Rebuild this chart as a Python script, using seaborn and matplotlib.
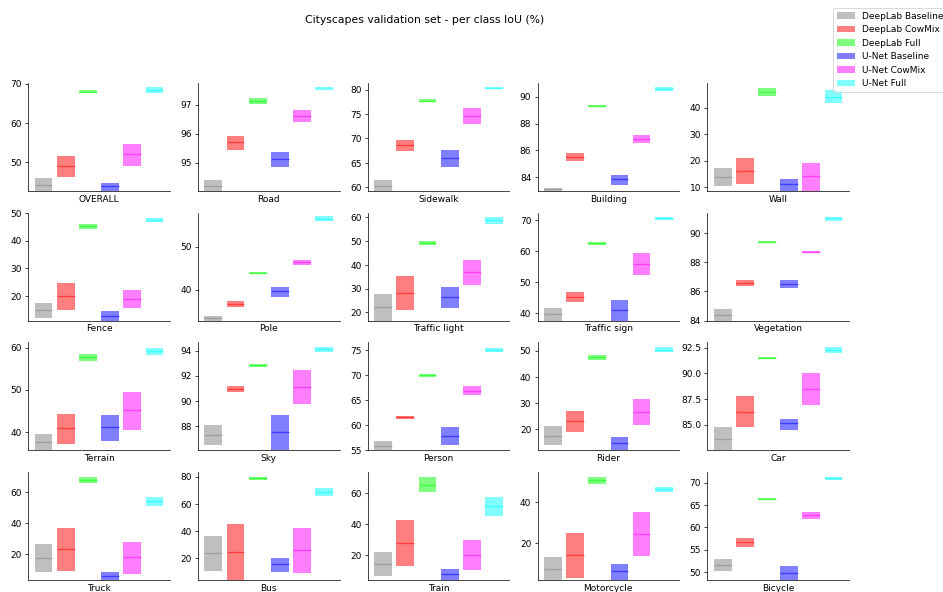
import matplotlib
matplotlib.use("Agg")
import matplotlib.pyplot as plt
import numpy as np
import seaborn as sns

classes = ["OVERALL", "Road", "Sidewalk", "Building", "Wall",
           "Fence", "Pole", "Traffic light", "Traffic sign", "Vegetation",
           "Terrain", "Sky", "Person", "Rider", "Car",
           "Truck", "Bus", "Train", "Motorcycle", "Bicycle"]

methods = ["DeepLab Baseline", "DeepLab CowMix", "DeepLab Full",
           "U-Net Baseline", "U-Net CowMix", "U-Net Full"]
method_colors = ["gray", "red", "lime", "blue", "magenta", "cyan"]

# per-class IoU spread over runs: low / median / high
dl_base_low = [42.5, 94.0, 59.2, 82.95, 10.38, 12.2, 32.7, 16.4, 37.5, 83.95,
               35.6, 86.52, 54.9, 13.92, 82.45, 8.6, 10.94, 6.52, 1.9, 50.37]
dl_base_med = [44.3, 94.21, 60.34, 83.10, 13.66, 14.96, 33.33, 22.25, 39.68, 84.39,
               37.64, 87.31, 55.87, 17.47, 83.64, 17.42, 24.16, 14.44, 7.74, 51.64]
dl_base_high = [46.0, 94.40, 61.44, 83.18, 17.06, 17.48, 33.88, 27.75, 41.72, 84.80,
                39.61, 88.11, 56.87, 21.39, 84.81, 26.67, 36.65, 22.35, 13.55, 52.97]

dl_cow_low = [46.2, 95.44, 67.47, 85.22, 11.13, 14.84, 35.89, 20.99, 43.76, 86.40,
              37.24, 90.67, 61.13, 19.11, 84.74, 9.25, 3.5, 12.94, 3.06, 55.58]
dl_cow_med = [48.97, 95.70, 68.63, 85.52, 15.93, 19.88, 36.67, 28.17, 45.38, 86.59,
              40.94, 90.93, 61.53, 23.29, 86.29, 23.23, 24.65, 28.13, 14.19, 56.69]
dl_cow_high = [51.6, 95.92, 69.66, 85.79, 20.85, 24.68, 37.36, 35.35, 46.88, 86.79,
               44.33, 91.20, 61.87, 27.09, 87.81, 36.99, 45.47, 42.89, 25.16, 57.73]

dl_full_low = [67.6, 97.02, 77.40, 89.26, 44.43, 44.25, 43.72, 48.59, 62.15, 89.34,
               56.93, 92.71, 69.73, 46.58, 91.4, 66.02, 77.8, 60.43, 48.55, 66.21]
dl_full_med = [68.0, 97.13, 77.74, 89.33, 46.07, 45.21, 43.95, 49.44, 62.58, 89.40,
               57.72, 92.84, 70.0, 47.47, 91.5, 67.96, 78.78, 65.35, 50.48, 66.43]
dl_full_high = [68.37, 97.23, 78.01, 89.40, 47.33, 45.93, 44.11, 50.0, 63.01, 89.47,
                58.50, 92.94, 70.27, 48.35, 91.6, 69.89, 79.76, 70.48, 52.26, 66.58]

un_base_low = [42.5, 94.85, 64.18, 83.43, 8.3, 11.0, 38.29, 21.97, 37.5, 86.27,
               37.95, 86.0, 55.93, 12.0, 84.52, 2.9, 9.71, 3.9, 2.0, 48.1]
un_base_med = [43.8, 95.13, 66.03, 83.83, 11.01, 12.92, 39.61, 26.34, 40.97, 86.54,
               41.18, 87.50, 57.87, 14.68, 85.13, 6.02, 15.59, 7.81, 6.77, 49.85]
un_base_high = [44.67, 95.37, 67.60, 84.15, 12.90, 14.6, 40.62, 30.70, 44.30, 86.79,
                44.09, 88.90, 59.67, 17.22, 85.58, 8.6, 20.49, 11.44, 10.16, 51.49]

un_cow_low = [49.05, 96.40, 73.01, 86.57, 8.3, 15.8, 45.81, 31.55, 52.37, 88.65,
              40.55, 89.77, 66.07, 21.77, 86.88, 7.31, 8.98, 10.37, 13.71, 61.82]
un_cow_med = [52.1, 96.61, 74.66, 86.84, 14.04, 18.92, 46.36, 36.90, 55.91, 88.72,
              45.20, 91.12, 66.93, 26.71, 88.46, 17.85, 25.88, 20.21, 24.52, 62.71]
un_cow_high = [54.7, 96.82, 76.23, 87.14, 18.95, 22.16, 46.9, 42.11, 59.46, 88.79,
               49.53, 92.47, 67.87, 31.65, 90.04, 27.96, 42.53, 30.05, 35.32, 63.53]

un_full_low = [67.6, 97.53, 80.14, 90.45, 41.78, 46.77, 55.89, 57.32, 70.0, 90.87,
               58.35, 93.92, 74.73, 49.37, 92.02, 51.18, 65.55, 45.03, 44.84, 70.52]
un_full_med = [68.45, 97.56, 80.34, 90.58, 44.17, 47.49, 56.43, 58.73, 70.54, 91.01,
               59.21, 94.11, 75.07, 50.38, 92.27, 54.19, 68.98, 51.66, 46.13, 70.97]
un_full_high = [69.1, 97.60, 80.55, 90.70, 46.57, 48.09, 56.98, 60.28, 71.08, 91.14,
                59.84, 94.29, 75.4, 51.39, 92.57, 56.99, 71.68, 57.65, 47.26, 71.34]

# y-axis range of each class panel
ylim_low = [42.68, 94.03, 59.25, 82.98, 8.49, 11.12, 32.79, 16.48, 37.63, 84.0,
            35.67, 86.07, 54.93, 12.03, 82.51, 3.01, 3.84, 3.96, 2.1, 48.22]
ylim_high = [70.26, 97.76, 81.44, 91.05, 49.47, 50.25, 57.9, 62.1, 72.47, 91.42,
             61.26, 94.66, 76.6, 53.16, 93.02, 72.9, 83.43, 73.48, 54.52, 72.38]

lows = [dl_base_low, dl_cow_low, dl_full_low, un_base_low, un_cow_low, un_full_low]
meds = [dl_base_med, dl_cow_med, dl_full_med, un_base_med, un_cow_med, un_full_med]
highs = [dl_base_high, dl_cow_high, dl_full_high, un_base_high, un_cow_high, un_full_high]

plt.rcParams["font.family"] = ["DejaVu Sans"]
palette = sns.color_palette(method_colors)

fig, axes = plt.subplots(4, 5, figsize=(14.51, 9.11), dpi=65)
fig.subplots_adjust(left=0.03, right=0.9, top=0.86, bottom=0.02, wspace=0.2, hspace=0.2)

width = 0.8
for ci, (ax, name) in enumerate(zip(axes.flat, classes)):
    for mi, method in enumerate(methods):
        lo, md, hi = lows[mi][ci], meds[mi][ci], highs[mi][ci]
        ax.bar(mi, hi - lo, bottom=lo, width=width, color=palette[mi],
               alpha=0.5, linewidth=0, label=method)
        ax.hlines(md, mi - width / 2, mi + width / 2, colors=[palette[mi]],
                  alpha=0.5, linewidth=1.5)
    ax.set_ylim(ylim_low[ci], ylim_high[ci])
    ax.set_xticks([])
    ax.set_xlabel(name)

sns.despine(fig=fig)

handles, labels = axes.flat[0].get_legend_handles_labels()
fig.legend(handles, labels, loc="upper left", bbox_to_anchor=(0.8835, 0.986),
           borderaxespad=0)
fig.suptitle("Cityscapes validation set - per class IoU (%)", x=0.45, y=0.975)

fig.savefig("out.png", dpi=65)
